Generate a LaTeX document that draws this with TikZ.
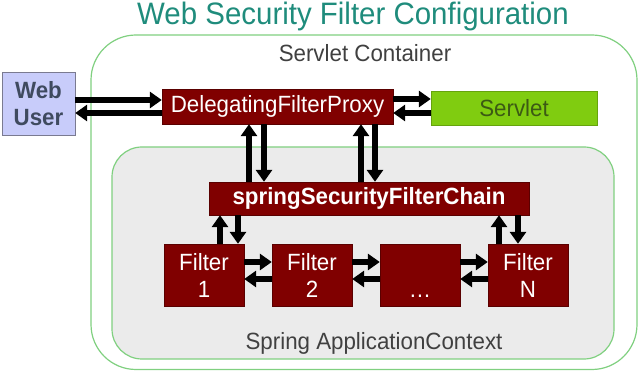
\documentclass[tikz,border=0pt]{standalone}
\usepackage{fontspec}
\setmainfont{Liberation Sans}[FakeStretch=0.95]
\usetikzlibrary{arrows.meta}

\definecolor{filterred}{HTML}{800000}
\definecolor{servletgreen}{HTML}{80CC10}
\definecolor{servlettext}{HTML}{3C5A14}
\definecolor{userfill}{HTML}{C8CCFA}
\definecolor{userdraw}{HTML}{7A7A90}
\definecolor{usertext}{HTML}{3F4A5F}
\definecolor{ctxfill}{HTML}{EBEBEB}
\definecolor{ctxdraw}{HTML}{80D080}
\definecolor{titleteal}{HTML}{1F8C7C}
\definecolor{labelgray}{HTML}{404040}

\tikzset{
  redbox/.style={draw=filterred!70!black, fill=filterred, text=white,
    inner sep=0pt, align=center},
  link/.style={line width=5.5pt, -{Triangle[length=12pt, width=16pt]}},
}

\begin{document}
\begin{tikzpicture}[x=1pt, y=-1pt, font=\fontsize{23.5}{27}\selectfont]
    % ================= Canvas =================
    \path[use as bounding box] (0,0) rectangle (640,371);

    % ================= Title =================
    \node (title) at (353,16) {\fontsize{31}{33}\selectfont\color{titleteal}Web Security Filter Configuration};

    % ================= Containers =================
    % Servlet container
    \draw[ctxdraw, line width=1.2pt, fill=white, rounded corners=45pt] (91,35) rectangle (637,369.5);
    \node[labelgray] (servletlbl) at (365,53) {Servlet Container};
    % Spring application context
    \draw[ctxdraw, line width=1.2pt, fill=ctxfill, rounded corners=30pt] (112,147) rectangle (614,359);
    \node[labelgray] (springlbl) at (374,343) {Spring ApplicationContext};

    % ================= Boxes =================
    \node[draw=userdraw, fill=userfill, text=usertext, font=\fontsize{23.5}{27}\selectfont\bfseries,
          minimum width=73pt, minimum height=63pt, inner sep=0pt, align=center]
          (user) at (38.5,103.5) {Web\\User};
    \node[redbox, minimum width=231pt, minimum height=35pt] (proxy) at (277.5,106.5) {DelegatingFilterProxy};
    \node[draw=servletgreen!80!black, fill=servletgreen, text=servlettext,
          minimum width=166pt, minimum height=34pt, inner sep=0pt] (servlet) at (514,108) {Servlet};
    \node[redbox, minimum width=320pt, minimum height=33pt, font=\fontsize{23.5}{27}\selectfont\bfseries]
          (chain) at (369,198.5) {springSecurityFilterChain};

    % Filters in the chain
    \foreach \name/\x/\txt in {f1/204/1, f2/312/2, fN/528/N}
        \node[redbox, minimum width=80pt, minimum height=62pt] (\name) at (\x,275) {Filter\\\txt};
    \node[redbox, minimum width=80pt, minimum height=62pt] (fdots) at (420,275) {\phantom{Filter}\\\ldots};

    % ================= Connectors =================
    % Web user <-> proxy <-> servlet
    \draw[link] (user.east |- 0,100) -- (proxy.west |- 0,100);
    \draw[link] (proxy.west |- 0,113) -- (user.east |- 0,113);
    \draw[link] (proxy.east |- 0,99) -- (servlet.west |- 0,99);
    \draw[link] (servlet.west |- 0,113) -- (proxy.east |- 0,113);

    % Proxy <-> filter chain
    \foreach \up/\down in {249/264, 361/375} {
        \draw[link] (chain.north -| \up,0) -- (proxy.south -| \up,0);
        \draw[link] (proxy.south -| \down,0) -- (chain.north -| \down,0);
    }

    % Filter chain <-> first and last filter
    \draw[link] (f1.north -| 220,0) -- (chain.south -| 220,0);
    \draw[link] (chain.south -| 238,0) -- (f1.north -| 238,0);
    \draw[link] (fN.north -| 499,0) -- (chain.south -| 499,0);
    \draw[link] (chain.south -| 518,0) -- (fN.north -| 518,0);

    % Filter to filter
    \foreach \a/\b in {f1/f2, f2/fdots, fdots/fN} {
        \draw[link] (\a.east |- 0,262) -- (\b.west |- 0,262);
        \draw[link] (\b.west |- 0,279) -- (\a.east |- 0,279);
    }
\end{tikzpicture}
\end{document}
